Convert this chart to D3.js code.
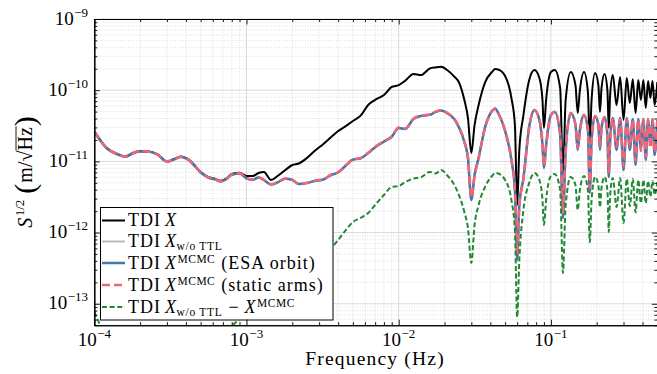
<!DOCTYPE html>
<html>
<head>
<meta charset="utf-8">
<script src="https://cdn.jsdelivr.net/npm/d3@7"></script>
<style>
    body { margin: 0; background: #fff; }
    svg text { font-family: "Liberation Serif", "DejaVu Serif", serif; fill: #000; }
</style>
</head>
<body>
<svg id="chart"></svg>
<script>

//frequency grid (Hz), shared by all series
var freq = [
    1e-4, 1.2e-4, 1.4e-4, 1.6e-4, 1.8e-4, 2e-4, 2.3e-4, 2.6e-4, 3e-4, 3.3e-4,
    3.7e-4, 4.2e-4, 5e-4, 5.6e-4, 6.2e-4, 6.8e-4, 7.4e-4, 8e-4, 9e-4, 1e-3,
    1.1e-3, 1.2e-3, 1.3e-3, 1.45e-3, 1.6e-3, 1.8e-3, 2e-3, 2.2e-3, 2.5e-3, 2.8e-3,
    3.2e-3, 3.6e-3, 4e-3, 4.5e-3, 5e-3, 5.6e-3, 6.3e-3, 7e-3, 8e-3, 9e-3,
    1e-2, 1.1e-2, 1.25e-2, 1.4e-2, 1.6e-2, 1.75e-2, 1.9e-2, 2.1e-2, 2.3e-2, 2.5e-2,
    2.7e-2, 2.85e-2, 3e-2, 3.15e-2, 3.35e-2, 3.7e-2, 4.1e-2, 4.3e-2, 4.5e-2, 5e-2,
    5.5e-2, 5.8e-2, 6e-2, 6.2e-2, 6.6e-2, 7.2e-2, 7.8e-2, 8.4e-2, 8.8e-2, 9e-2,
    9.3e-2, 0.1, 0.106, 0.115, 0.12, 0.125, 0.135, 0.145, 0.15, 0.155,
    0.165, 0.175, 0.18, 0.185, 0.195, 0.205, 0.21, 0.215, 0.225, 0.235,
    0.24, 0.245, 0.255, 0.27, 0.285, 0.3, 0.315, 0.33, 0.345, 0.36,
    0.375, 0.39, 0.405, 0.42, 0.435, 0.45, 0.465, 0.48, 0.5
];

//TDI X
var tdiX = [
    2.66e-11, 1.57e-11, 1.29e-11, 1.18e-11, 1.32e-11, 1.40e-11, 1.38e-11, 1.26e-11, 1.0e-11, 1.07e-11,
    1.17e-11, 1.05e-11, 7.1e-12, 6.05e-12, 5.7e-12, 5.35e-12, 5.8e-12, 6.65e-12, 6.9e-12, 6.23e-12,
    6.23e-12, 6.87e-12, 7.1e-12, 5.48e-12, 6.23e-12, 7.57e-12, 8.9e-12, 9.34e-12, 1.12e-11, 1.4e-11,
    1.76e-11, 2.2e-11, 2.67e-11, 3.14e-11, 3.69e-11, 4.35e-11, 6.2e-11, 7.3e-11, 8.56e-11, 1.11e-10,
    1.18e-10, 1.35e-10, 1.69e-10, 1.63e-10, 2.02e-10, 2.09e-10, 2.13e-10, 1.89e-10, 1.58e-10, 1.26e-10,
    7.28e-11, 4.07e-11, 1.31e-11, 3.24e-11, 6.19e-11, 1.3e-10, 1.8e-10, 1.98e-10, 1.95e-10, 1.58e-10,
    7.77e-11, 3.24e-11, 2.44e-12, 1.45e-11, 4.48e-11, 1.39e-10, 1.92e-10, 1.48e-10, 7.28e-11, 2.95e-11,
    7.28e-11, 1.8e-10, 1.92e-10, 1.07e-10, 6.44e-12, 7.28e-11, 1.8e-10, 1.18e-10, 4.78e-11, 1.0e-10,
    1.8e-10, 9.4e-11, 1.87e-11, 7.28e-11, 1.74e-10, 1.18e-10, 4.94e-11, 1.07e-10, 1.69e-10, 1.0e-10,
    2.95e-11, 8.56e-11, 1.63e-10, 6.19e-11, 1.53e-10, 3.81e-11, 1.48e-10, 6.6e-11, 1.43e-10, 4.78e-11,
    1.39e-10, 7.28e-11, 1.39e-10, 5.6e-11, 1.35e-10, 7.77e-11, 1.35e-10, 6.19e-11, 1.3e-10
];

//TDI X without TTL
var tdiXNoTTL = [
    2.62e-11, 1.55e-11, 1.27e-11, 1.16e-11, 1.30e-11, 1.38e-11, 1.36e-11, 1.24e-11, 9.9e-12, 1.05e-11,
    1.15e-11, 1.03e-11, 6.98e-12, 5.94e-12, 5.6e-12, 5.22e-12, 5.66e-12, 6.5e-12, 6.76e-12, 5.79e-12,
    5.51e-12, 5.94e-12, 5.48e-12, 4.74e-12, 5.06e-12, 5.7e-12, 5.48e-12, 4.82e-12, 4.97e-12, 5.31e-12,
    5.57e-12, 6.44e-12, 6.98e-12, 8.75e-12, 1.06e-11, 1.1e-11, 1.31e-11, 1.58e-11, 1.9e-11, 2.22e-11,
    2.95e-11, 2.85e-11, 3.94e-11, 4.35e-11, 4.5e-11, 4.95e-11, 5.19e-11, 4.7e-11, 4.0e-11, 2.95e-11,
    1.87e-11, 1.12e-11, 2.87e-12, 6.44e-12, 1.12e-11, 3.07e-11, 5.1e-11, 5.54e-11, 4.78e-11, 2.67e-11,
    1.05e-11, 3.97e-12, 4.12e-13, 2.44e-12, 5.85e-12, 3.07e-11, 5.27e-11, 3.81e-11, 1.7e-11, 8.08e-12,
    1.7e-11, 4.5e-11, 4.94e-11, 2.35e-11, 1.6e-12, 1.45e-11, 4.78e-11, 3.25e-11, 1.45e-11, 2.76e-11,
    4.5e-11, 2.76e-11, 3.6e-12, 2.0e-11, 4.35e-11, 3.25e-11, 1.45e-11, 2.95e-11, 4.2e-11, 2.35e-11,
    6.04e-12, 2.0e-11, 4.07e-11, 1.45e-11, 4.07e-11, 7.57e-12, 4.07e-11, 1.45e-11, 3.94e-11, 8.9e-12,
    3.94e-11, 1.54e-11, 3.94e-11, 1.05e-11, 3.94e-11, 1.7e-11, 3.94e-11, 1.23e-11, 3.81e-11
];

//TDI X MCMC, ESA orbit
var mcmcEsa = [
    2.61e-11, 1.54e-11, 1.27e-11, 1.16e-11, 1.30e-11, 1.38e-11, 1.36e-11, 1.24e-11, 9.9e-12, 1.05e-11,
    1.15e-11, 1.03e-11, 6.98e-12, 5.94e-12, 5.6e-12, 5.22e-12, 5.66e-12, 6.5e-12, 6.76e-12, 5.79e-12,
    5.51e-12, 5.94e-12, 5.48e-12, 4.74e-12, 5.06e-12, 5.7e-12, 5.48e-12, 4.82e-12, 4.97e-12, 5.31e-12,
    5.57e-12, 6.44e-12, 6.98e-12, 8.75e-12, 1.06e-11, 1.1e-11, 1.31e-11, 1.58e-11, 1.9e-11, 2.22e-11,
    2.95e-11, 2.85e-11, 3.94e-11, 4.35e-11, 4.5e-11, 4.95e-11, 5.19e-11, 4.7e-11, 4.0e-11, 2.95e-11,
    1.87e-11, 1.12e-11, 2.87e-12, 6.44e-12, 1.12e-11, 3.07e-11, 5.1e-11, 5.54e-11, 4.78e-11, 2.67e-11,
    1.05e-11, 3.97e-12, 4.12e-13, 2.44e-12, 5.85e-12, 3.07e-11, 5.27e-11, 3.81e-11, 1.7e-11, 8.08e-12,
    1.7e-11, 4.5e-11, 4.94e-11, 2.35e-11, 1.6e-12, 1.45e-11, 4.78e-11, 3.25e-11, 1.45e-11, 2.76e-11,
    4.5e-11, 2.76e-11, 3.6e-12, 2.0e-11, 4.35e-11, 3.25e-11, 1.45e-11, 2.95e-11, 4.2e-11, 2.35e-11,
    6.04e-12, 2.0e-11, 4.07e-11, 1.45e-11, 4.07e-11, 7.57e-12, 4.07e-11, 1.45e-11, 3.94e-11, 8.9e-12,
    3.94e-11, 1.54e-11, 3.94e-11, 1.05e-11, 3.94e-11, 1.7e-11, 3.94e-11, 1.23e-11, 3.81e-11
];

//TDI X MCMC, static arms
var mcmcStatic = [
    2.63e-11, 1.56e-11, 1.28e-11, 1.17e-11, 1.32e-11, 1.40e-11, 1.37e-11, 1.25e-11, 1.0e-11, 1.06e-11,
    1.16e-11, 1.04e-11, 7.0e-12, 5.96e-12, 5.62e-12, 5.25e-12, 5.7e-12, 6.55e-12, 6.8e-12, 5.82e-12,
    5.55e-12, 5.98e-12, 5.52e-12, 4.78e-12, 5.1e-12, 5.74e-12, 5.52e-12, 4.86e-12, 5.0e-12, 5.36e-12,
    5.62e-12, 6.5e-12, 7.05e-12, 8.8e-12, 1.07e-11, 1.11e-11, 1.32e-11, 1.6e-11, 1.92e-11, 2.25e-11,
    2.98e-11, 2.88e-11, 3.98e-11, 4.4e-11, 4.55e-11, 5.0e-11, 5.22e-11, 4.74e-11, 4.05e-11, 3.0e-11,
    1.9e-11, 1.15e-11, 3.1e-12, 6.2e-12, 1.1e-11, 3.04e-11, 5.05e-11, 5.5e-11, 4.8e-11, 2.7e-11,
    1.08e-11, 4.1e-12, 5.0e-13, 2.3e-12, 5.6e-12, 3.0e-11, 5.2e-11, 3.9e-11, 1.78e-11, 8.6e-12,
    1.6e-11, 4.4e-11, 4.98e-11, 2.45e-11, 1.9e-12, 1.35e-11, 4.7e-11, 3.35e-11, 1.55e-11, 2.6e-11,
    4.45e-11, 2.9e-11, 4.2e-12, 1.85e-11, 4.3e-11, 3.4e-11, 1.6e-11, 2.8e-11, 4.15e-11, 2.5e-11,
    7.0e-12, 1.85e-11, 4.0e-11, 1.6e-11, 3.95e-11, 8.5e-12, 3.9e-11, 1.6e-11, 3.85e-11, 1.0e-11,
    3.85e-11, 1.4e-11, 3.9e-11, 1.15e-11, 3.85e-11, 1.55e-11, 3.9e-11, 1.35e-11, 3.75e-11
];

//difference TDI X w/o TTL - X MCMC
var residual = [
    7.7e-14, 3.5e-14, 2.6e-14, 2.3e-14, 2.2e-14, 2.1e-14, 2.2e-14, 2.3e-14, 2.2e-14, 2.4e-14,
    2.5e-14, 2.4e-14, 2.6e-14, 2.8e-14, 3.0e-14, 3.3e-14, 3.8e-14, 4.8e-14, 6.1e-14, 6.85e-14,
    8.05e-14, 9.3e-14, 1.06e-13, 1.29e-13, 1.51e-13, 1.84e-13, 2.23e-13, 2.62e-13, 3.18e-13, 3.85e-13,
    4.83e-13, 6.05e-13, 7.87e-13, 1.09e-12, 1.41e-12, 1.6e-12, 1.88e-12, 2.44e-12, 3.37e-12, 4.37e-12,
    4.5e-12, 5.1e-12, 5.75e-12, 5.98e-12, 7.1e-12, 6.76e-12, 7.57e-12, 6.23e-12, 4.82e-12, 3.27e-12,
    1.94e-12, 1.16e-12, 3.74e-13, 1.28e-12, 2.44e-12, 4.43e-12, 6.23e-12, 6.87e-12, 6.76e-12, 5.48e-12,
    2.87e-12, 1.09e-12, 6.53e-14, 4.12e-13, 2.08e-12, 4.97e-12, 6.87e-12, 5.48e-12, 2.87e-12, 1.28e-12,
    2.87e-12, 6.23e-12, 6.66e-12, 3.97e-12, 2.71e-13, 2.44e-12, 6.04e-12, 4.66e-12, 2.08e-12, 3.97e-12,
    6.23e-12, 3.97e-12, 7.38e-13, 2.87e-12, 6.04e-12, 4.66e-12, 2.28e-12, 4.23e-12, 6.04e-12, 3.97e-12,
    1.02e-12, 3.37e-12, 5.85e-12, 2.28e-12, 5.85e-12, 1.36e-12, 5.66e-12, 2.36e-12, 5.66e-12, 1.92e-12,
    5.48e-12, 2.6e-12, 5.48e-12, 2.6e-12, 5.3e-12, 3.2e-12, 5.3e-12, 3.4e-12, 5.1e-12
];

//axis ranges and tick labels (decade exponents)
var freqRange = [1e-4, 0.5];
var ampRange = [5e-14, 1e-9];
var xTickExps = [-4, -3, -2, -1];
var yTickExps = [-13, -12, -11, -10, -9];

var width = 657, height = 374;
var plot = {left: 94.3, right: 657.3, top: 19, bottom: 325.2};
var serif = '"Liberation Serif", "DejaVu Serif", serif';

var svg = d3.select('#chart')
    .attr('width', width)
    .attr('height', height);

var x = d3.scaleLog().domain(freqRange).range([plot.left, plot.right]);
var y = d3.scaleLog().domain(ampRange).range([plot.bottom, plot.top]);

function isDecade(v) {
    var l = Math.log10(v);
    return Math.abs(l - Math.round(l)) < 1e-6;
}

//lays out text pieces (normal, italic, super/subscript) one after the other
function mathText(parent, parts, x0, y0, anchor) {
    var g = parent.append('g');
    var cursor = 0;
    parts.forEach(function(p) {
        cursor += p.pre || 0;
        var t = g.append('text')
            .attr('x', cursor)
            .attr('y', p.dy || 0)
            .attr('font-family', serif)
            .attr('font-size', p.size)
            .attr('font-style', p.it ? 'italic' : 'normal')
            .attr('letter-spacing', p.ls || 0)
            .text(p.t);
        var w = t.node().getComputedTextLength();
        if (p.bar !== undefined) {
            g.append('line')
                .attr('x1', cursor - p.bar)
                .attr('x2', cursor + w + 1)
                .attr('y1', (p.dy || 0) - p.size * 0.80)
                .attr('y2', (p.dy || 0) - p.size * 0.80)
                .attr('stroke', '#000')
                .attr('stroke-width', 0.9);
        }
        cursor += w;
    });
    var shift = anchor === 'end' ? -cursor : (anchor === 'middle' ? -cursor / 2 : 0);
    g.attr('transform', 'translate(' + (x0 + shift) + ',' + y0 + ')');
    return g;
}

//grid: dotted minor lines then solid decade lines
var grid = svg.append('g').attr('class', 'grid');
var xMinor = x.ticks().filter(function(d) {return !isDecade(d);});
var yMinor = y.ticks().filter(function(d) {return !isDecade(d);});
var xMajor = xTickExps.map(function(e) {return Math.pow(10, e);});
var yMajor = yTickExps.map(function(e) {return Math.pow(10, e);});

grid.selectAll('.xminor')
    .data(xMinor)
    .enter().append('line')
    .attr('x1', function(d) {return x(d);})
    .attr('x2', function(d) {return x(d);})
    .attr('y1', plot.top)
    .attr('y2', plot.bottom)
    .attr('stroke', '#cfcfcf')
    .attr('stroke-width', 0.7)
    .attr('stroke-dasharray', '1,1.6');
grid.selectAll('.yminor')
    .data(yMinor)
    .enter().append('line')
    .attr('x1', plot.left)
    .attr('x2', plot.right)
    .attr('y1', function(d) {return y(d);})
    .attr('y2', function(d) {return y(d);})
    .attr('stroke', '#cfcfcf')
    .attr('stroke-width', 0.7)
    .attr('stroke-dasharray', '1,1.6');
grid.selectAll('.xmajor')
    .data(xMajor)
    .enter().append('line')
    .attr('x1', function(d) {return x(d);})
    .attr('x2', function(d) {return x(d);})
    .attr('y1', plot.top)
    .attr('y2', plot.bottom)
    .attr('stroke', '#dadada')
    .attr('stroke-width', 1);
grid.selectAll('.ymajor')
    .data(yMajor)
    .enter().append('line')
    .attr('x1', plot.left)
    .attr('x2', plot.right)
    .attr('y1', function(d) {return y(d);})
    .attr('y2', function(d) {return y(d);})
    .attr('stroke', '#dadada')
    .attr('stroke-width', 1);

//series lines
svg.append('clipPath')
    .attr('id', 'plotClip')
    .append('rect')
    .attr('x', plot.left)
    .attr('y', plot.top)
    .attr('width', plot.right - plot.left)
    .attr('height', plot.bottom - plot.top);

var series = [
    {values: tdiX, color: '#000000', width: 2, dash: null},
    {values: tdiXNoTTL, color: '#BBBBBB', width: 2, dash: null},
    {values: mcmcEsa, color: '#4477AA', width: 2.5, dash: null},
    {values: mcmcStatic, color: '#EE6677', width: 2.5, dash: '8,4'},
    {values: residual, color: '#228833', width: 2, dash: '5,2.6'}
];

var line = d3.line()
    .x(function(d) {return x(d[0]);})
    .y(function(d) {return y(d[1]);})
    .curve(d3.curveMonotoneX);

var lines = svg.append('g')
    .attr('class', 'lines')
    .attr('clip-path', 'url(#plotClip)');

series.forEach(function(s) {
    lines.append('path')
        .datum(d3.zip(freq, s.values))
        .attr('d', line)
        .attr('fill', 'none')
        .attr('stroke', s.color)
        .attr('stroke-width', s.width)
        .attr('stroke-dasharray', s.dash)
        .attr('stroke-linejoin', 'round');
});

//legend
var fs = 18, ss = 11.5;
var tdi = {t: 'TDI', size: fs, ls: 1};
var xIt = {t: 'X', size: fs, it: true, pre: 4};
var supMcmc = {t: 'MCMC', size: ss, dy: -5.5, pre: 1.5, ls: 0.5};
var subTtl = {t: 'w/o TTL', size: ss, dy: 3, pre: 0.5, ls: 0.7};
var legendParts = [
    [tdi, xIt],
    [tdi, xIt, subTtl],
    [tdi, xIt, supMcmc, {t: '(ESA orbit)', size: fs, pre: 6, ls: 1}],
    [tdi, xIt, supMcmc, {t: '(static arms)', size: fs, pre: 6, ls: 1}],
    [tdi, xIt, subTtl, {t: '\u2212', size: fs, pre: 6}, {t: 'X', size: fs, it: true, pre: 6}, supMcmc]
];
var legendRows = [220.5, 241.5, 263, 285, 307];

var legend = svg.append('g').attr('class', 'legend');
legend.append('rect')
    .attr('x', 100.5)
    .attr('y', 207.5)
    .attr('width', 232.5)
    .attr('height', 112.5)
    .attr('fill', '#fff')
    .attr('stroke', '#000')
    .attr('stroke-width', 1);

legendParts.forEach(function(parts, i) {
    var s = series[i];
    var rowY = legendRows[i];
    legend.append('line')
        .attr('x1', 102)
        .attr('x2', 125)
        .attr('y1', rowY)
        .attr('y2', rowY)
        .attr('stroke', s.color)
        .attr('stroke-width', s.width)
        .attr('stroke-dasharray', s.dash);
    mathText(legend, parts, 128, rowY + 5.5, 'start');
});

//axes: inward ticks on all four sides
function drawAxis(axisFn, scale, vals, size, tx, ty) {
    svg.append('g')
        .attr('transform', 'translate(' + tx + ',' + ty + ')')
        .call(axisFn(scale)
            .tickValues(vals)
            .tickSizeInner(-size)
            .tickSizeOuter(0)
            .tickFormat(''))
        .call(function(g) {
            g.selectAll('line').attr('stroke', '#000').attr('stroke-width', 0.9);
            g.select('.domain').attr('stroke', '#000').attr('stroke-width', 1.1);
        });
}

drawAxis(d3.axisBottom, x, xMinor, 3, 0, plot.bottom);
drawAxis(d3.axisBottom, x, xMajor, 5.5, 0, plot.bottom);
drawAxis(d3.axisTop, x, xMinor, 3, 0, plot.top);
drawAxis(d3.axisTop, x, xMajor, 5.5, 0, plot.top);
drawAxis(d3.axisLeft, y, yMinor, 3, plot.left, 0);
drawAxis(d3.axisLeft, y, yMajor, 5.5, plot.left, 0);
drawAxis(d3.axisRight, y, yMinor, 3, plot.right, 0);
drawAxis(d3.axisRight, y, yMajor, 5.5, plot.right, 0);

//tick labels
var labels = svg.append('g').attr('class', 'ticklabels');
function powerParts(e) {
    return [{t: '10', size: 19}, {t: '\u2212' + Math.abs(e), size: 13, dy: -8, pre: 0.5}];
}
xTickExps.forEach(function(e) {
    mathText(labels, powerParts(e), x(Math.pow(10, e)), 346, 'middle');
});
yTickExps.forEach(function(e) {
    mathText(labels, powerParts(e), 88, y(Math.pow(10, e)) + 5.5, 'end');
});

//axis titles
mathText(svg, [{t: 'Frequency (Hz)', size: 19.5, ls: 1.2}], 375, 365, 'middle');

var yTitle = svg.append('g')
    .attr('transform', 'translate(32,172) rotate(-90)');
mathText(yTitle, [
    {t: 'S', size: 20, it: true},
    {t: '1/2', size: 13, dy: -8, pre: 1.5},
    {t: '(', size: 30, dy: 3, pre: 6},
    {t: 'm/', size: 20, pre: 1},
    {t: '\u221A', size: 20, pre: 0},
    {t: 'Hz', size: 20, bar: 0},
    {t: ')', size: 30, dy: 3, pre: 1}
], 0, 0, 'middle');

</script>
</body>
</html>
